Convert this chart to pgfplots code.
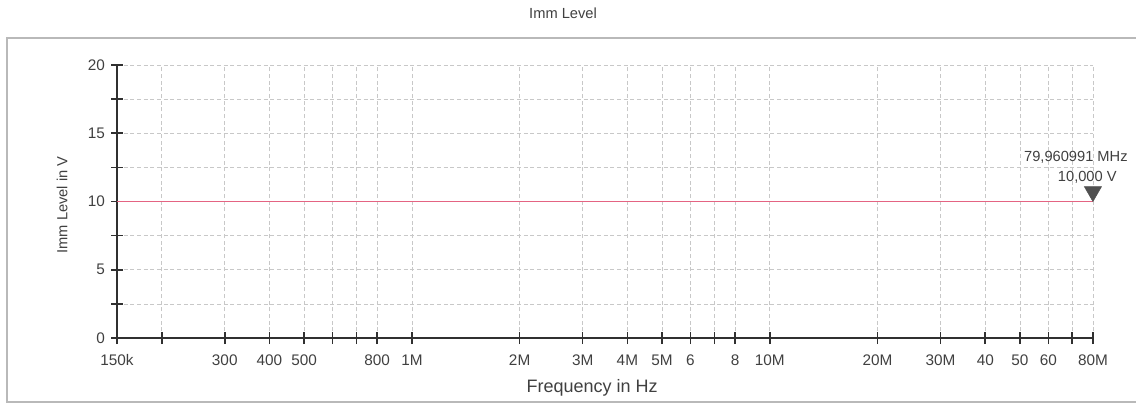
\documentclass[border=0pt]{standalone}
\usepackage{fontspec}
\setmainfont{Liberation Sans}
\usepackage{pgfplots}
\pgfplotsset{compat=1.18}

\definecolor{txt}{HTML}{404040}
\definecolor{axline}{HTML}{303030}
\definecolor{gridc}{HTML}{C8C8C8}
\definecolor{levelred}{RGB}{228,100,130}
\definecolor{mk}{HTML}{505050}

\begin{document}
\begin{tikzpicture}
\useasboundingbox (-87.75pt,-49.5pt) rectangle (764.25pt,253.5pt);
% outer frame
\draw[gray!55, line width=0.8pt] (764.25pt,225pt) -- (-82.5pt,225pt) -- (-82.5pt,-48pt) -- (764.25pt,-48pt);
\begin{axis}[
  at={(0,0)}, anchor=south west,
  scale only axis,
  width=732pt, height=204.75pt,
  xmode=log,
  xmin=150000, xmax=80000000,
  ymin=0, ymax=20,
  axis x line*=bottom, axis y line*=left,
  axis line style={-, axline, line width=1.2pt},
  tick style={axline, line width=1.2pt},
  major tick length=9pt,
  tick align=center,
  xtick={150000,200000,300000,400000,500000,600000,700000,800000,1000000,
         2000000,3000000,4000000,5000000,6000000,7000000,8000000,10000000,
         20000000,30000000,40000000,50000000,60000000,70000000,80000000},
  xticklabels={150k,,300,400,500,,,800,1M,2M,3M,4M,5M,6,,8,10M,20M,30M,40,50,60,,80M},
  minor xtick={},
  ytick={0,2.5,...,20},
  yticklabels={0,,5,,10,,15,,20},
  ticklabel style={font=\fontsize{11.5}{13}\selectfont, text=txt},
  xticklabel style={anchor=center, yshift=-12pt},
  yticklabel style={anchor=east, xshift=-1pt},
  grid=major,
  grid style={gridc, densely dashed, line width=0.5pt},
  title={Imm Level},
  title style={at={(0.457,1.1905)}, anchor=center, yshift=-6pt, font=\fontsize{11}{13}\selectfont, text=txt},
  xlabel={Frequency in Hz},
  xlabel style={at={(0.4867,-0.1832)}, anchor=center, font=\fontsize{13.5}{16}\selectfont, text=txt},
  ylabel={Imm Level in V},
  ylabel style={at={(-0.05635,0.4872)}, anchor=center, rotate=0, font=\fontsize{11}{13}\selectfont, text=txt},
  clip=false,
]
\addplot[color=levelred, line width=0.7pt, no marks] coordinates {
  (150000,10) (1000000,10) (10000000,10) (79960991,10)
};
\addplot[only marks, mark=triangle*, mark size=7.4pt,
  mark options={yshift=7.4pt, rotate=180, fill=mk, draw=mk}] coordinates {
  (79960991,10)
};
\node[anchor=east, font=\fontsize{11}{13}\selectfont, text=txt, inner sep=0pt]
  at ([xshift=26.25pt, yshift=33pt]axis cs:79960991,10) {79,960991 MHz};
\node[anchor=east, font=\fontsize{11}{13}\selectfont, text=txt, inner sep=0pt]
  at ([xshift=18pt, yshift=18pt]axis cs:79960991,10) {10,000 V};
\end{axis}
\end{tikzpicture}
\end{document}
